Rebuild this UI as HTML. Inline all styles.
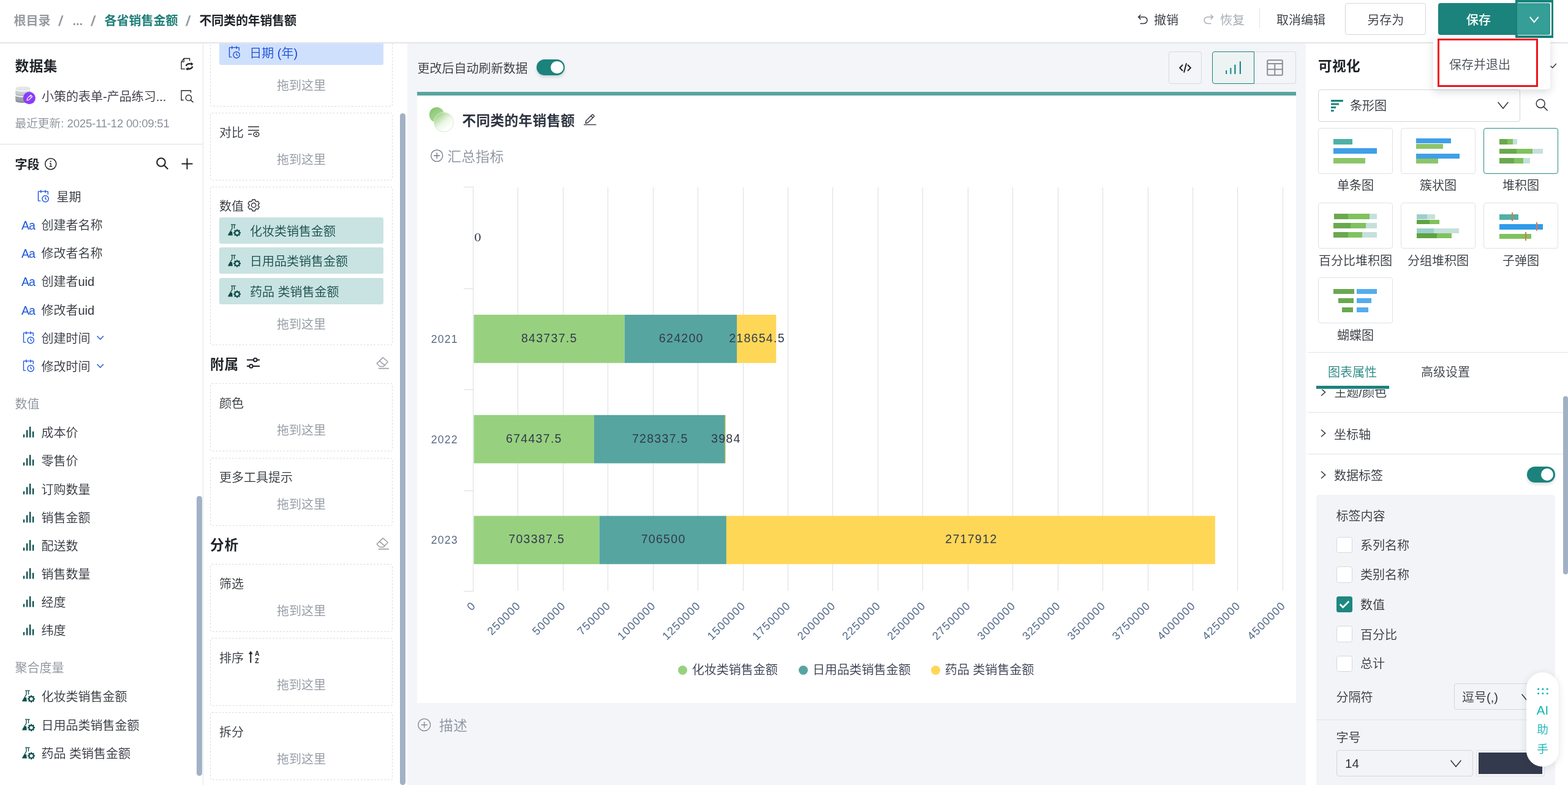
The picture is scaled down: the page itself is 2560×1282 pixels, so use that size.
<!DOCTYPE html>
<html lang="zh-CN">
<head>
<meta charset="utf-8">
<title>不同类的年销售额</title>
<style>
*{box-sizing:border-box;margin:0;padding:0}
html,body{width:2560px;height:1282px;overflow:hidden;background:#fff}
body{font-family:"Liberation Sans","Noto Sans CJK SC",sans-serif;color:#2f333a;-webkit-font-smoothing:antialiased}
#root{position:relative;width:2560px;height:1282px;overflow:hidden;background:#f3f5f9}
#root div,#root svg{position:absolute}
.t{white-space:nowrap}
.l{font-weight:400}
svg{overflow:visible}
</style>
</head>
<body>
<div id="root">
<section aria-label="panel-backgrounds">
<div style="left:0px;top:70px;width:665px;height:1212px;background:#fff;"></div>
<div style="left:331px;top:70px;width:1px;height:1212px;background:#e1e3e7;"></div>
<div style="left:2132px;top:70px;width:428px;height:1212px;background:#fff;"></div>
</section>
<aside aria-label="dataset-fields">
<div class="t" style="left:24.5px;top:91.0px;font-size:22.67px;line-height:34px;color:#1f2328;font-weight:700;letter-spacing:0.500px;">数据集</div>
<div class="t" style="left:68px;top:143.0px;font-size:20px;line-height:30px;color:#30343b;font-weight:350;">小策的表单-产品练习...</div>
<div class="t" style="left:24.5px;top:188.0px;font-size:18.67px;line-height:28px;color:#8b919b;font-weight:350;">最近更新: <span style="letter-spacing:-0.25px">2025-11-12 00:09:51</span></div>
<div style="left:0px;top:235px;width:331px;height:1px;background:#dcdfe4;"></div>
<div class="t" style="left:24.5px;top:254.0px;font-size:20px;line-height:30px;color:#1f2328;font-weight:700;">字段</div>
<svg style="left:295px;top:95px;" width="21" height="22" viewBox="0 0 21 22"><g fill="none" stroke="#1f2328" stroke-width="1.350"><path d="M14.600 4.600V0.500H5.400L1.100 5.900V17.600H6.900"/><path d="M5.400 0.500V5.900H1.100" stroke-width="1.100"/></g><g fill="none" stroke="#1f2328" stroke-width="2.400"><path d="M8.700 12.700Q10.600 8 16.900 9.500"/><path d="M19.500 13.500Q17.400 18.100 12.300 17.400"/></g><g fill="#1f2328"><path d="M16.300 6.300L20.500 9.600L17.400 12.500Z"/><path d="M13 14.800L7.700 17.700L12.300 20.100Z"/></g></svg>
<svg style="left:25px;top:141px;" width="34" height="30" viewBox="0 0 34 30"><path d="M0.500 15.70A11.950 2.7 0 0 1 24.400 15.70V24.30A11.950 2.7 0 0 1 0.500 24.30Z" fill="#8c9299"/><path d="M0.500 15.70A11.950 2.7 0 0 1 24.400 15.70V21.30A11.950 2.7 0 0 1 0.500 21.30Z" fill="#9da2a9"/><path d="M0.500 9.20A11.950 2.7 0 0 1 24.400 9.20V15.20A11.950 2.7 0 0 1 0.500 15.20Z" fill="#ffffff"/><path d="M0.500 7.70A11.950 2.7 0 0 1 24.400 7.70V13.70A11.950 2.7 0 0 1 0.500 13.70Z" fill="#b9bdc2"/><path d="M0.500 7.70A11.950 2.7 0 0 1 24.400 7.70V10.90A11.950 2.7 0 0 1 0.500 10.90Z" fill="#c9ccd1"/><path d="M0.500 4.20A11.950 2.7 0 0 1 24.400 4.20V6.00A11.950 2.7 0 0 1 0.500 6.00Z" fill="#ffffff"/><path d="M0.500 3.00A11.950 2.7 0 0 1 24.400 3.00V4.80A11.950 2.7 0 0 1 0.500 4.80Z" fill="#e3e5e8"/><circle cx="22.800" cy="19.100" r="10.150" fill="#8b3df8"/><g transform="translate(22.700 19.300) rotate(45)" fill="none" stroke="#fff" stroke-width="1.150" stroke-linejoin="round"><path d="M-1.800 -5.300h3.600v7.600L0 5.300L-1.800 2.300Z"/><path d="M-1.800 -3h3.600" stroke-width="0.900"/></g></svg>
<svg style="left:295px;top:147px;" width="21" height="22" viewBox="0 0 21 22"><g fill="none" stroke="#1f2328" stroke-width="1.350"><path d="M16.500 4.400V1H1.100V16.500H4.700"/><circle cx="12.900" cy="12.800" r="4.600"/><path d="M16.100 16.100l4.500 4.200" stroke-width="1.500"/></g></svg>
<svg style="left:73px;top:257.5px;" width="19.5" height="19.5" viewBox="0 0 19.5 19.5"><circle cx="9.750" cy="9.750" r="9" fill="none" stroke="#1f2328" stroke-width="1.500"/><g fill="#1f2328"><circle cx="9.750" cy="5.600" r="1.100"/><path d="M8 8.200h2.600v5h1.600v1.200H7.600v-1.200h1.700V9.400H8z"/></g></svg>
<svg style="left:255px;top:257px;" width="20" height="20" viewBox="0 0 20 20"><g fill="none" stroke="#1f2328" stroke-width="2.1"><circle cx="8" cy="8" r="6.800"/><path d="M12.800 12.800l6.400 6.400"/></g></svg>
<svg style="left:296px;top:257.5px;" width="19" height="19" viewBox="0 0 19 19"><path d="M9.500 0.500v18M0.500 9.500h18" fill="none" stroke="#1f2328" stroke-width="2"/></svg>
<svg style="left:62px;top:310.2px;" width="19" height="21" viewBox="0 0 19 21"><g fill="none" stroke="#1a56e0" stroke-width="1.400" stroke-linecap="round" stroke-linejoin="round"><path d="M3.800 18.100H1.100a0.600 0.600 0 0 1-0.600-0.600V3.230a0.600 0.600 0 0 1 0.600-0.600H15.700a0.600 0.600 0 0 1 0.600 0.600V7.150"/><path d="M4.750 0.700V4.600M12.100 0.700V4.600"/><circle cx="12.100" cy="14.600" r="5.150"/><path d="M12.100 12.250V14.300L13.500 15.700" stroke-width="1.300"/></g></svg>
<div class="t" style="left:92.5px;top:306.5px;font-size:20px;line-height:30px;color:#30343b;font-weight:350;">星期</div>
<div class="t" style="left:35px;top:353.5px;font-size:19.5px;line-height:29px;color:#1f57d6;letter-spacing:-0.9px;">Aa</div>
<div class="t" style="left:67.5px;top:353.0px;font-size:20px;line-height:30px;color:#30343b;font-weight:350;">创建者名称</div>
<div class="t" style="left:35px;top:399.5px;font-size:19.5px;line-height:29px;color:#1f57d6;letter-spacing:-0.9px;">Aa</div>
<div class="t" style="left:67.5px;top:399.0px;font-size:20px;line-height:30px;color:#30343b;font-weight:350;">修改者名称</div>
<div class="t" style="left:35px;top:445.5px;font-size:19.5px;line-height:29px;color:#1f57d6;letter-spacing:-0.9px;">Aa</div>
<div class="t" style="left:67.5px;top:445.0px;font-size:20px;line-height:30px;color:#30343b;font-weight:350;">创建者uid</div>
<div class="t" style="left:35px;top:492.5px;font-size:19.5px;line-height:29px;color:#1f57d6;letter-spacing:-0.9px;">Aa</div>
<div class="t" style="left:67.5px;top:492.0px;font-size:20px;line-height:30px;color:#30343b;font-weight:350;">修改者uid</div>
<svg style="left:37.5px;top:541.0px;" width="19" height="21" viewBox="0 0 19 21"><g fill="none" stroke="#1a56e0" stroke-width="1.400" stroke-linecap="round" stroke-linejoin="round"><path d="M3.800 18.100H1.100a0.600 0.600 0 0 1-0.600-0.600V3.230a0.600 0.600 0 0 1 0.600-0.600H15.700a0.600 0.600 0 0 1 0.600 0.600V7.150"/><path d="M4.750 0.700V4.600M12.100 0.700V4.600"/><circle cx="12.100" cy="14.600" r="5.150"/><path d="M12.100 12.250V14.300L13.500 15.700" stroke-width="1.300"/></g></svg>
<div class="t" style="left:67.5px;top:538.0px;font-size:20px;line-height:30px;color:#30343b;font-weight:350;">创建时间</div>
<svg style="left:157.5px;top:548px;" width="12" height="8" viewBox="0 0 12 8"><path d="M0.600 0.700l5.200 5.600L11 0.700" fill="none" stroke="#1f57d6" stroke-width="1.400"/></svg>
<svg style="left:37.5px;top:587.0px;" width="19" height="21" viewBox="0 0 19 21"><g fill="none" stroke="#1a56e0" stroke-width="1.400" stroke-linecap="round" stroke-linejoin="round"><path d="M3.800 18.100H1.100a0.600 0.600 0 0 1-0.600-0.600V3.230a0.600 0.600 0 0 1 0.600-0.600H15.700a0.600 0.600 0 0 1 0.600 0.600V7.150"/><path d="M4.750 0.700V4.600M12.100 0.700V4.600"/><circle cx="12.100" cy="14.600" r="5.150"/><path d="M12.100 12.250V14.300L13.500 15.700" stroke-width="1.300"/></g></svg>
<div class="t" style="left:67.5px;top:584.0px;font-size:20px;line-height:30px;color:#30343b;font-weight:350;">修改时间</div>
<svg style="left:157.5px;top:594px;" width="12" height="8" viewBox="0 0 12 8"><path d="M0.600 0.700l5.200 5.600L11 0.700" fill="none" stroke="#1f57d6" stroke-width="1.400"/></svg>
<div class="t" style="left:24.5px;top:645.0px;font-size:20px;line-height:30px;color:#8b919b;font-weight:350;">数值</div>
<svg style="left:38.2px;top:696.5px;" width="17" height="18" viewBox="0 0 17 18"><g fill="#0c4f4d"><rect x="-0.100" y="12.300" width="2.300" height="5.200" rx="0.900"/><rect x="4.900" y="5.200" width="2.400" height="12.300" rx="0.900"/><rect x="9.900" y="-0.300" width="2.400" height="17.800" rx="0.900"/><rect x="14.900" y="7.400" width="2.400" height="10.100" rx="0.900"/></g></svg>
<div class="t" style="left:67.5px;top:692.0px;font-size:20px;line-height:30px;color:#30343b;font-weight:350;">成本价</div>
<svg style="left:38.2px;top:742.5px;" width="17" height="18" viewBox="0 0 17 18"><g fill="#0c4f4d"><rect x="-0.100" y="12.300" width="2.300" height="5.200" rx="0.900"/><rect x="4.900" y="5.200" width="2.400" height="12.300" rx="0.900"/><rect x="9.900" y="-0.300" width="2.400" height="17.800" rx="0.900"/><rect x="14.900" y="7.400" width="2.400" height="10.100" rx="0.900"/></g></svg>
<div class="t" style="left:67.5px;top:738.0px;font-size:20px;line-height:30px;color:#30343b;font-weight:350;">零售价</div>
<svg style="left:38.2px;top:789.5px;" width="17" height="18" viewBox="0 0 17 18"><g fill="#0c4f4d"><rect x="-0.100" y="12.300" width="2.300" height="5.200" rx="0.900"/><rect x="4.900" y="5.200" width="2.400" height="12.300" rx="0.900"/><rect x="9.900" y="-0.300" width="2.400" height="17.800" rx="0.900"/><rect x="14.900" y="7.400" width="2.400" height="10.100" rx="0.900"/></g></svg>
<div class="t" style="left:67.5px;top:785.0px;font-size:20px;line-height:30px;color:#30343b;font-weight:350;">订购数量</div>
<svg style="left:38.2px;top:835.5px;" width="17" height="18" viewBox="0 0 17 18"><g fill="#0c4f4d"><rect x="-0.100" y="12.300" width="2.300" height="5.200" rx="0.900"/><rect x="4.900" y="5.200" width="2.400" height="12.300" rx="0.900"/><rect x="9.900" y="-0.300" width="2.400" height="17.800" rx="0.900"/><rect x="14.900" y="7.400" width="2.400" height="10.100" rx="0.900"/></g></svg>
<div class="t" style="left:67.5px;top:831.0px;font-size:20px;line-height:30px;color:#30343b;font-weight:350;">销售金额</div>
<svg style="left:38.2px;top:881.5px;" width="17" height="18" viewBox="0 0 17 18"><g fill="#0c4f4d"><rect x="-0.100" y="12.300" width="2.300" height="5.200" rx="0.900"/><rect x="4.900" y="5.200" width="2.400" height="12.300" rx="0.900"/><rect x="9.900" y="-0.300" width="2.400" height="17.800" rx="0.900"/><rect x="14.900" y="7.400" width="2.400" height="10.100" rx="0.900"/></g></svg>
<div class="t" style="left:67.5px;top:877.0px;font-size:20px;line-height:30px;color:#30343b;font-weight:350;">配送数</div>
<svg style="left:38.2px;top:927.5px;" width="17" height="18" viewBox="0 0 17 18"><g fill="#0c4f4d"><rect x="-0.100" y="12.300" width="2.300" height="5.200" rx="0.900"/><rect x="4.900" y="5.200" width="2.400" height="12.300" rx="0.900"/><rect x="9.900" y="-0.300" width="2.400" height="17.800" rx="0.900"/><rect x="14.900" y="7.400" width="2.400" height="10.100" rx="0.900"/></g></svg>
<div class="t" style="left:67.5px;top:923.0px;font-size:20px;line-height:30px;color:#30343b;font-weight:350;">销售数量</div>
<svg style="left:38.2px;top:973.5px;" width="17" height="18" viewBox="0 0 17 18"><g fill="#0c4f4d"><rect x="-0.100" y="12.300" width="2.300" height="5.200" rx="0.900"/><rect x="4.900" y="5.200" width="2.400" height="12.300" rx="0.900"/><rect x="9.900" y="-0.300" width="2.400" height="17.800" rx="0.900"/><rect x="14.900" y="7.400" width="2.400" height="10.100" rx="0.900"/></g></svg>
<div class="t" style="left:67.5px;top:969.0px;font-size:20px;line-height:30px;color:#30343b;font-weight:350;">经度</div>
<svg style="left:38.2px;top:1019.5px;" width="17" height="18" viewBox="0 0 17 18"><g fill="#0c4f4d"><rect x="-0.100" y="12.300" width="2.300" height="5.200" rx="0.900"/><rect x="4.900" y="5.200" width="2.400" height="12.300" rx="0.900"/><rect x="9.900" y="-0.300" width="2.400" height="17.800" rx="0.900"/><rect x="14.900" y="7.400" width="2.400" height="10.100" rx="0.900"/></g></svg>
<div class="t" style="left:67.5px;top:1015.0px;font-size:20px;line-height:30px;color:#30343b;font-weight:350;">纬度</div>
<div class="t" style="left:24.5px;top:1076.0px;font-size:20px;line-height:30px;color:#8b919b;font-weight:350;">聚合度量</div>
<svg style="left:35.7px;top:1126.5px;" width="22" height="21" viewBox="0 0 22 21"><g fill="#0c4f4d"><rect x="5.100" y="0.200" width="7.700" height="1.300" rx="0.300"/><path d="M6.300 1.300H7.600V7.400L4.750 12.100H7L7.900 18.400H0.900Q-0.300 18.400 0.200 17.400L6.300 7.050Z"/><rect x="9.900" y="1.300" width="1.300" height="5.900" rx="0.300"/><path d="M13.97,8.41L16.23,8.41L16.43,10.00L17.20,10.32L18.47,9.33L20.07,10.93L19.08,12.20L19.40,12.97L20.99,13.17L20.99,15.43L19.40,15.63L19.08,16.40L20.07,17.67L18.47,19.27L17.20,18.28L16.43,18.60L16.23,20.19L13.97,20.19L13.77,18.60L13.00,18.28L11.73,19.27L10.13,17.67L11.12,16.40L10.80,15.63L9.21,15.43L9.21,13.17L10.80,12.97L11.12,12.20L10.13,10.93L11.73,9.33L13.00,10.32L13.77,10.00ZM17.70,14.3a2.600,2.600 0 1,0 -5.200,0a2.600,2.600 0 1,0 5.200,0Z" fill-rule="evenodd"/></g></svg>
<div class="t" style="left:67.5px;top:1123.0px;font-size:20px;line-height:30px;color:#30343b;font-weight:350;">化妆类销售金额</div>
<svg style="left:35.7px;top:1173.5px;" width="22" height="21" viewBox="0 0 22 21"><g fill="#0c4f4d"><rect x="5.100" y="0.200" width="7.700" height="1.300" rx="0.300"/><path d="M6.300 1.300H7.600V7.400L4.750 12.100H7L7.900 18.400H0.900Q-0.300 18.400 0.200 17.400L6.300 7.050Z"/><rect x="9.900" y="1.300" width="1.300" height="5.900" rx="0.300"/><path d="M13.97,8.41L16.23,8.41L16.43,10.00L17.20,10.32L18.47,9.33L20.07,10.93L19.08,12.20L19.40,12.97L20.99,13.17L20.99,15.43L19.40,15.63L19.08,16.40L20.07,17.67L18.47,19.27L17.20,18.28L16.43,18.60L16.23,20.19L13.97,20.19L13.77,18.60L13.00,18.28L11.73,19.27L10.13,17.67L11.12,16.40L10.80,15.63L9.21,15.43L9.21,13.17L10.80,12.97L11.12,12.20L10.13,10.93L11.73,9.33L13.00,10.32L13.77,10.00ZM17.70,14.3a2.600,2.600 0 1,0 -5.200,0a2.600,2.600 0 1,0 5.200,0Z" fill-rule="evenodd"/></g></svg>
<div class="t" style="left:67.5px;top:1170.0px;font-size:20px;line-height:30px;color:#30343b;font-weight:350;">日用品类销售金额</div>
<svg style="left:35.7px;top:1219.5px;" width="22" height="21" viewBox="0 0 22 21"><g fill="#0c4f4d"><rect x="5.100" y="0.200" width="7.700" height="1.300" rx="0.300"/><path d="M6.300 1.300H7.600V7.400L4.750 12.100H7L7.900 18.400H0.900Q-0.300 18.400 0.200 17.400L6.300 7.050Z"/><rect x="9.900" y="1.300" width="1.300" height="5.900" rx="0.300"/><path d="M13.97,8.41L16.23,8.41L16.43,10.00L17.20,10.32L18.47,9.33L20.07,10.93L19.08,12.20L19.40,12.97L20.99,13.17L20.99,15.43L19.40,15.63L19.08,16.40L20.07,17.67L18.47,19.27L17.20,18.28L16.43,18.60L16.23,20.19L13.97,20.19L13.77,18.60L13.00,18.28L11.73,19.27L10.13,17.67L11.12,16.40L10.80,15.63L9.21,15.43L9.21,13.17L10.80,12.97L11.12,12.20L10.13,10.93L11.73,9.33L13.00,10.32L13.77,10.00ZM17.70,14.3a2.600,2.600 0 1,0 -5.200,0a2.600,2.600 0 1,0 5.200,0Z" fill-rule="evenodd"/></g></svg>
<div class="t" style="left:67.5px;top:1216.0px;font-size:20px;line-height:30px;color:#30343b;font-weight:350;">药品 类销售金额</div>
<div style="left:321px;top:810px;width:8.5px;height:456.5px;background:#a2b1c4;border-radius:4.500px;"></div>
</aside>
<section aria-label="chart-shelves">
<div style="left:358px;top:66px;width:268px;height:39.6px;background:#cfe0fd;border-radius:3px;"></div>
<svg style="left:374px;top:75.2px;" width="19" height="21" viewBox="0 0 19 21"><g fill="none" stroke="#1d4fd8" stroke-width="1.400" stroke-linecap="round" stroke-linejoin="round"><path d="M3.800 18.100H1.100a0.600 0.600 0 0 1-0.600-0.600V3.230a0.600 0.600 0 0 1 0.600-0.600H15.700a0.600 0.600 0 0 1 0.600 0.600V7.150"/><path d="M4.750 0.700V4.600M12.100 0.700V4.600"/><circle cx="12.100" cy="14.600" r="5.150"/><path d="M12.100 12.250V14.300L13.500 15.700" stroke-width="1.300"/></g></svg>
<div class="t" style="left:407.2px;top:72.0px;font-size:20px;line-height:30px;color:#1a4dd6;font-weight:350;">日期 (年)</div>
<div class="t" style="left:343px;top:125.0px;font-size:20px;line-height:30px;color:#9096a0;font-weight:350;width:298px;text-align:center;">拖到这里</div>
<div class="t" style="left:358px;top:201.6px;font-size:20px;line-height:30px;color:#30343b;font-weight:350;">对比</div>
<svg style="left:405px;top:205.6px;" width="18.5" height="17.5" viewBox="0 0 18.5 17.5"><g fill="none" stroke="#2f333a" stroke-width="1.500"><path d="M0 1h18M0 6.700h18M0 13.200h6.200"/><ellipse cx="13.400" cy="13.300" rx="4.400" ry="3.600"/></g><circle cx="13.400" cy="13.300" r="1.300" fill="#2f333a"/></svg>
<div class="t" style="left:343px;top:246.0px;font-size:20px;line-height:30px;color:#9096a0;font-weight:350;width:298px;text-align:center;">拖到这里</div>
<div class="t" style="left:358px;top:322.4px;font-size:20px;line-height:30px;color:#30343b;font-weight:350;">数值</div>
<svg style="left:404px;top:325px;" width="20.5" height="20.5" viewBox="0 0 20.5 20.5"><g fill="none" stroke="#2f333a" stroke-width="1.400" stroke-linejoin="round"><path d="M7.94,0.97L12.46,0.97L13.04,3.48L14.60,4.38L17.06,3.63L19.32,7.54L17.44,9.30L17.44,11.10L19.32,12.86L17.06,16.77L14.60,16.02L13.04,16.92L12.46,19.43L7.94,19.43L7.36,16.92L5.80,16.02L3.34,16.77L1.08,12.86L2.96,11.10L2.96,9.30L1.08,7.54L3.34,3.63L5.80,4.38L7.36,3.48Z"/><circle cx="10.2" cy="10.2" r="3.700"/></g></svg>
<div style="left:358.3px;top:355px;width:267.4px;height:43px;background:#c8e3e1;border-radius:3px;"></div>
<svg style="left:372.3px;top:365.5px;" width="22" height="21" viewBox="0 0 22 21"><g fill="#0f4a48"><rect x="5.100" y="0.200" width="7.700" height="1.300" rx="0.300"/><path d="M6.300 1.300H7.600V7.400L4.750 12.100H7L7.900 18.400H0.900Q-0.300 18.400 0.200 17.400L6.300 7.050Z"/><rect x="9.900" y="1.300" width="1.300" height="5.900" rx="0.300"/><path d="M13.97,8.41L16.23,8.41L16.43,10.00L17.20,10.32L18.47,9.33L20.07,10.93L19.08,12.20L19.40,12.97L20.99,13.17L20.99,15.43L19.40,15.63L19.08,16.40L20.07,17.67L18.47,19.27L17.20,18.28L16.43,18.60L16.23,20.19L13.97,20.19L13.77,18.60L13.00,18.28L11.73,19.27L10.13,17.67L11.12,16.40L10.80,15.63L9.21,15.43L9.21,13.17L10.80,12.97L11.12,12.20L10.13,10.93L11.73,9.33L13.00,10.32L13.77,10.00ZM17.70,14.3a2.600,2.600 0 1,0 -5.200,0a2.600,2.600 0 1,0 5.200,0Z" fill-rule="evenodd"/></g></svg>
<div class="t" style="left:408px;top:363.0px;font-size:20px;line-height:30px;color:#164b49;font-weight:350;">化妆类销售金额</div>
<div style="left:358.3px;top:404.4px;width:267.4px;height:43px;background:#c8e3e1;border-radius:3px;"></div>
<svg style="left:372.3px;top:415.5px;" width="22" height="21" viewBox="0 0 22 21"><g fill="#0f4a48"><rect x="5.100" y="0.200" width="7.700" height="1.300" rx="0.300"/><path d="M6.300 1.300H7.600V7.400L4.750 12.100H7L7.900 18.400H0.900Q-0.300 18.400 0.200 17.400L6.300 7.050Z"/><rect x="9.900" y="1.300" width="1.300" height="5.900" rx="0.300"/><path d="M13.97,8.41L16.23,8.41L16.43,10.00L17.20,10.32L18.47,9.33L20.07,10.93L19.08,12.20L19.40,12.97L20.99,13.17L20.99,15.43L19.40,15.63L19.08,16.40L20.07,17.67L18.47,19.27L17.20,18.28L16.43,18.60L16.23,20.19L13.97,20.19L13.77,18.60L13.00,18.28L11.73,19.27L10.13,17.67L11.12,16.40L10.80,15.63L9.21,15.43L9.21,13.17L10.80,12.97L11.12,12.20L10.13,10.93L11.73,9.33L13.00,10.32L13.77,10.00ZM17.70,14.3a2.600,2.600 0 1,0 -5.200,0a2.600,2.600 0 1,0 5.200,0Z" fill-rule="evenodd"/></g></svg>
<div class="t" style="left:408px;top:412.0px;font-size:20px;line-height:30px;color:#164b49;font-weight:350;">日用品类销售金额</div>
<div style="left:358.3px;top:454px;width:267.4px;height:43px;background:#c8e3e1;border-radius:3px;"></div>
<svg style="left:372.3px;top:465.5px;" width="22" height="21" viewBox="0 0 22 21"><g fill="#0f4a48"><rect x="5.100" y="0.200" width="7.700" height="1.300" rx="0.300"/><path d="M6.300 1.300H7.600V7.400L4.750 12.100H7L7.900 18.400H0.900Q-0.300 18.400 0.200 17.400L6.300 7.050Z"/><rect x="9.900" y="1.300" width="1.300" height="5.900" rx="0.300"/><path d="M13.97,8.41L16.23,8.41L16.43,10.00L17.20,10.32L18.47,9.33L20.07,10.93L19.08,12.20L19.40,12.97L20.99,13.17L20.99,15.43L19.40,15.63L19.08,16.40L20.07,17.67L18.47,19.27L17.20,18.28L16.43,18.60L16.23,20.19L13.97,20.19L13.77,18.60L13.00,18.28L11.73,19.27L10.13,17.67L11.12,16.40L10.80,15.63L9.21,15.43L9.21,13.17L10.80,12.97L11.12,12.20L10.13,10.93L11.73,9.33L13.00,10.32L13.77,10.00ZM17.70,14.3a2.600,2.600 0 1,0 -5.200,0a2.600,2.600 0 1,0 5.200,0Z" fill-rule="evenodd"/></g></svg>
<div class="t" style="left:408px;top:462.0px;font-size:20px;line-height:30px;color:#164b49;font-weight:350;">药品 类销售金额</div>
<div class="t" style="left:343px;top:515.0px;font-size:20px;line-height:30px;color:#9096a0;font-weight:350;width:298px;text-align:center;">拖到这里</div>
<div class="t" style="left:343px;top:578.0px;font-size:22.67px;line-height:34px;color:#1f2328;font-weight:700;letter-spacing:0.800px;">附属</div>
<svg style="left:403.3px;top:584.2px;" width="21" height="18" viewBox="0 0 21 18"><g fill="none" stroke="#1f2328" stroke-width="2"><path d="M0 3.700h10.800M16.800 3.700h4.200M0 14h4M10 14h11"/><circle cx="13.800" cy="3.700" r="2.800"/><circle cx="7" cy="14" r="2.800"/></g></svg>
<svg style="left:614px;top:582.9px;" width="21" height="20" viewBox="0 0 21 20"><g fill="none" stroke="#9aa0a8" stroke-width="1.5" stroke-linejoin="round"><path d="M11.2 0.9l7.400 6.300a1 1 0 0 1 .1 1.400l-6.700 6.900H6.400l-4.600-4a1 1 0 0 1-.1-1.400z"/><path d="M5.800 6.600l8.800 7.200"/><path d="M4 18.700h17" stroke-width="1.700"/></g></svg>
<div class="t" style="left:358px;top:644.0px;font-size:20px;line-height:30px;color:#30343b;font-weight:350;">颜色</div>
<div class="t" style="left:343px;top:688.0px;font-size:20px;line-height:30px;color:#9096a0;font-weight:350;width:298px;text-align:center;">拖到这里</div>
<div class="t" style="left:358px;top:765.0px;font-size:20px;line-height:30px;color:#30343b;font-weight:350;">更多工具提示</div>
<div class="t" style="left:343px;top:809.0px;font-size:20px;line-height:30px;color:#9096a0;font-weight:350;width:298px;text-align:center;">拖到这里</div>
<div class="t" style="left:343px;top:873.0px;font-size:22.67px;line-height:34px;color:#1f2328;font-weight:700;letter-spacing:0.800px;">分析</div>
<svg style="left:614px;top:877.9px;" width="21" height="20" viewBox="0 0 21 20"><g fill="none" stroke="#9aa0a8" stroke-width="1.5" stroke-linejoin="round"><path d="M11.2 0.9l7.400 6.300a1 1 0 0 1 .1 1.400l-6.700 6.900H6.400l-4.600-4a1 1 0 0 1-.1-1.400z"/><path d="M5.800 6.600l8.800 7.200"/><path d="M4 18.700h17" stroke-width="1.700"/></g></svg>
<div class="t" style="left:358px;top:939.0px;font-size:20px;line-height:30px;color:#30343b;font-weight:350;">筛选</div>
<div class="t" style="left:343px;top:983.0px;font-size:20px;line-height:30px;color:#9096a0;font-weight:350;width:298px;text-align:center;">拖到这里</div>
<div class="t" style="left:358px;top:1060.0px;font-size:20px;line-height:30px;color:#30343b;font-weight:350;">排序</div>
<div class="t" style="left:343px;top:1104.0px;font-size:20px;line-height:30px;color:#9096a0;font-weight:350;width:298px;text-align:center;">拖到这里</div>
<svg style="left:405.5px;top:1062.5px;" width="19" height="20" viewBox="0 0 19 20"><path d="M3.300 19.500V3.600" stroke="#1f2328" stroke-width="2" fill="none"/><path d="M3.300 0L6.700 5.200H-0.100z" fill="#1f2328"/><text x="10" y="8.400" font-size="10.500" font-weight="700" fill="#1f2328" font-family="Liberation Sans,sans-serif">A</text><text x="10.300" y="19.600" font-size="10.500" font-weight="700" fill="#1f2328" font-family="Liberation Sans,sans-serif">Z</text></svg>
<div class="t" style="left:358px;top:1181.0px;font-size:20px;line-height:30px;color:#30343b;font-weight:350;">拆分</div>
<div class="t" style="left:343px;top:1225.0px;font-size:20px;line-height:30px;color:#9096a0;font-weight:350;width:298px;text-align:center;">拖到这里</div>
<svg style="left:0;top:0" width="700" height="1282" viewBox="0 0 700 1282"><g fill="none" stroke="#d6d9e1" stroke-width="1" stroke-dasharray="2.800 2.700"><rect x="343.5" y="40" width="297" height="133.5" rx="2.500"/><rect x="343.5" y="184.6" width="297" height="109.6" rx="2.500"/><rect x="343.5" y="305.3" width="297" height="257.8" rx="2.500"/><rect x="343.5" y="626.4" width="297" height="110.2" rx="2.500"/><rect x="343.5" y="748.3" width="297" height="110" rx="2.500"/><rect x="343.5" y="921.5" width="297" height="110" rx="2.500"/><rect x="343.5" y="1042.3" width="297" height="110" rx="2.500"/><rect x="343.5" y="1163.5" width="297" height="110" rx="2.500"/></g></svg>
<div style="left:653px;top:185px;width:8.7px;height:1096.5px;background:#a2b1c4;border-radius:4.500px;"></div>
</section>
<main aria-label="chart-canvas">
<div class="t" style="left:681.5px;top:96.5px;font-size:20px;line-height:30px;color:#30343b;font-weight:350;">更改后自动刷新数据</div>
<div style="left:876.2px;top:97px;width:46px;height:26px;background:#1b837c;border-radius:13.0px;box-shadow:0 3px 5px rgba(0,0,0,.14);"></div>
<div style="left:899.2px;top:99.8px;width:20.4px;height:20.4px;background:#fff;border-radius:50%;"></div>
<div style="left:1908.3px;top:84.1px;width:53.5px;height:52.7px;border:1px solid #d6d9de;border-radius:4px;"></div>
<svg style="left:1925px;top:103px;" width="20" height="16" viewBox="0 0 20 16"><g fill="none" stroke="#1f2328" stroke-width="2"><path d="M6 2.800L1.200 7.800L6 12.800"/><path d="M14 2.800L18.800 7.800L14 12.800"/><path d="M12 0.300L8 15.500"/></g></svg>
<div style="left:2047.4px;top:84.1px;width:68.3px;height:52.7px;border:1px solid #d6d9de;border-left:none;border-radius:0 4px 4px 0;"></div>
<div style="left:1979.2px;top:84.1px;width:68.7px;height:52.7px;border:1.300px solid #1b837c;border-radius:4px 0 0 4px;background:#edf3f3;"></div>
<svg style="left:2001px;top:100px;" width="26" height="21" viewBox="0 0 26 21"><g fill="#1b8a8c"><rect x="0.100" y="14.900" width="2.100" height="6"/><rect x="7.300" y="10.900" width="2.100" height="10"/><rect x="14.200" y="5.600" width="2.300" height="15.300"/><rect x="22.800" y="0.200" width="2.200" height="20.700"/></g></svg>
<svg style="left:2067.5px;top:97px;" width="27" height="27" viewBox="0 0 27 27"><g fill="none" stroke="#8a8e98" stroke-width="2"><rect x="1.200" y="1.200" width="24.600" height="24.600" rx="1.500"/><path d="M1.200 6.900h24.600M1.200 16.200h24.600M13.300 6.900v18.900"/></g></svg>
<div style="left:681px;top:150px;width:1435px;height:998px;background:#fff;"></div>
<div style="left:681px;top:150px;width:1435px;height:5.8px;background:#58a5a0;"></div>
<div style="left:700.9px;top:175px;width:24.6px;height:24.6px;border-radius:50%;background:linear-gradient(140deg,#86c56c 10%,#b9dea8 90%);"></div>
<div style="left:707.7px;top:182.7px;width:33px;height:33px;border-radius:50%;border:1px solid #d6edcd;background:linear-gradient(142deg,rgba(160,211,137,.96) 12%,rgba(236,247,231,.96) 52%,rgba(255,255,255,.97) 78%);"></div>
<div class="t" style="left:754.5px;top:180.0px;font-size:22.67px;line-height:34px;color:#2d3340;font-weight:700;letter-spacing:0.330px;">不同类的年销售额</div>
<svg style="left:953px;top:185.5px;" width="21" height="19" viewBox="0 0 21 19"><g fill="none" stroke="#2f333a" stroke-width="1.400" stroke-linejoin="round"><path d="M3 15.200l.800-4L13.600 1.400a1.200 1.200 0 0 1 1.700 0l1.400 1.400a1.200 1.200 0 0 1 0 1.700L6.900 14.300z"/><path d="M11.800 3.200l3 3"/><path d="M0 17.600h20.400" stroke-width="1.300"/></g></svg>
<svg style="left:702.5px;top:244px;" width="20.5" height="20.5" viewBox="0 0 20.5 20.5"><g fill="none" stroke="#6b7686" stroke-width="1.3"><circle cx="10.25" cy="10.25" r="9.45"/><path d="M10.25 5.25v10M5.25 10.25h10"/></g></svg>
<div class="t" style="left:730.5px;top:238.6px;font-size:22.67px;line-height:34px;color:#8a929e;font-weight:350;letter-spacing:0.400px;">汇总指标</div>
<svg style="left:682px;top:1172.5px;" width="21.5" height="21.5" viewBox="0 0 21.5 21.5"><g fill="none" stroke="#838b98" stroke-width="1.3"><circle cx="10.75" cy="10.75" r="9.95"/><path d="M10.75 5.75v10M5.75 10.75h10"/></g></svg>
<div class="t" style="left:717px;top:1168.0px;font-size:22.67px;line-height:34px;color:#8a929e;font-weight:350;letter-spacing:0.600px;">描述</div>
<svg style="left:0;top:0" width="2560" height="1282" viewBox="0 0 2560 1282" font-family="Liberation Sans,sans-serif"><g fill="#dcdee6" shape-rendering="crispEdges"><rect x="845" y="306" width="1" height="658.500"/><rect x="919" y="306" width="1" height="658.500"/><rect x="992" y="306" width="1" height="658.500"/><rect x="1066" y="306" width="1" height="658.500"/><rect x="1139" y="306" width="1" height="658.500"/><rect x="1213" y="306" width="1" height="658.500"/><rect x="1286" y="306" width="1" height="658.500"/><rect x="1359" y="306" width="1" height="658.500"/><rect x="1433" y="306" width="1" height="658.500"/><rect x="1506" y="306" width="1" height="658.500"/><rect x="1580" y="306" width="1" height="658.500"/><rect x="1653" y="306" width="1" height="658.500"/><rect x="1727" y="306" width="1" height="658.500"/><rect x="1800" y="306" width="1" height="658.500"/><rect x="1874" y="306" width="1" height="658.500"/><rect x="1947" y="306" width="1" height="658.500"/><rect x="2020" y="306" width="1" height="658.500"/><rect x="2094" y="306" width="1" height="658.500"/></g><g fill="#d9dce4" shape-rendering="crispEdges"><rect x="772" y="305" width="1" height="660.500"/><rect x="757" y="305" width="15.500" height="1"/><rect x="757" y="471" width="15.500" height="1"/><rect x="757" y="636" width="15.500" height="1"/><rect x="757" y="801" width="15.500" height="1"/><rect x="757" y="965" width="15.500" height="1"/></g><rect x="773.6" y="514" width="246.1" height="78.800" fill="#97d17f"/><rect x="1019.7" y="514" width="183.3" height="78.800" fill="#56a5a1"/><rect x="1203.0" y="514" width="64.2" height="78.800" fill="#ffd757"/><text x="747.700" y="559.7" text-anchor="end" font-size="17.800" fill="#5a6b85" letter-spacing="1.100">2021</text><rect x="773.6" y="677.8" width="196.4" height="78.800" fill="#97d17f"/><rect x="970.0" y="677.8" width="213.8" height="78.800" fill="#56a5a1"/><rect x="1183.9" y="677.8" width="1.2" height="78.800" fill="#ffd757"/><text x="747.700" y="723.5" text-anchor="end" font-size="17.800" fill="#5a6b85" letter-spacing="1.100">2022</text><rect x="773.6" y="842.5" width="204.9" height="78.800" fill="#97d17f"/><rect x="978.5" y="842.5" width="207.4" height="78.800" fill="#56a5a1"/><rect x="1185.9" y="842.5" width="798.0" height="78.800" fill="#ffd757"/><text x="747.700" y="888.2" text-anchor="end" font-size="17.800" fill="#5a6b85" letter-spacing="1.100">2023</text><text x="896.8" y="558.9" text-anchor="middle" font-size="19.600" fill="#333a4d" letter-spacing="1.250">843737.5</text><text x="1112.3" y="558.9" text-anchor="middle" font-size="19.600" fill="#333a4d" letter-spacing="1.250">624200</text><text x="1236.0" y="558.9" text-anchor="middle" font-size="19.600" fill="#333a4d" letter-spacing="1.250">218654.5</text><text x="871.9" y="722.7" text-anchor="middle" font-size="19.600" fill="#333a4d" letter-spacing="1.250">674437.5</text><text x="1077.8" y="722.7" text-anchor="middle" font-size="19.600" fill="#333a4d" letter-spacing="1.250">728337.5</text><text x="1185.3" y="722.7" text-anchor="middle" font-size="19.600" fill="#333a4d" letter-spacing="1.250">3984</text><text x="876.2" y="887.4" text-anchor="middle" font-size="19.600" fill="#333a4d" letter-spacing="1.250">703387.5</text><text x="1083.1" y="887.4" text-anchor="middle" font-size="19.600" fill="#333a4d" letter-spacing="1.250">706500</text><text x="1585.8" y="887.4" text-anchor="middle" font-size="19.600" fill="#333a4d" letter-spacing="1.250">2717912</text><text transform="translate(774.300,393.800) scale(1.130,0.960)" font-size="20" fill="#333a4d" font-family="Liberation Serif,serif">0</text><text transform="translate(768.8,981.500) rotate(-45)" text-anchor="end" font-size="18.300" fill="#53698a" letter-spacing="1.150" dy="12.500">0</text><text transform="translate(842.2,981.500) rotate(-45)" text-anchor="end" font-size="18.300" fill="#53698a" letter-spacing="1.150" dy="12.500">250000</text><text transform="translate(915.7,981.500) rotate(-45)" text-anchor="end" font-size="18.300" fill="#53698a" letter-spacing="1.150" dy="12.500">500000</text><text transform="translate(989.1,981.500) rotate(-45)" text-anchor="end" font-size="18.300" fill="#53698a" letter-spacing="1.150" dy="12.500">750000</text><text transform="translate(1062.6,981.500) rotate(-45)" text-anchor="end" font-size="18.300" fill="#53698a" letter-spacing="1.150" dy="12.500">1000000</text><text transform="translate(1136.0,981.500) rotate(-45)" text-anchor="end" font-size="18.300" fill="#53698a" letter-spacing="1.150" dy="12.500">1250000</text><text transform="translate(1209.5,981.500) rotate(-45)" text-anchor="end" font-size="18.300" fill="#53698a" letter-spacing="1.150" dy="12.500">1500000</text><text transform="translate(1282.9,981.500) rotate(-45)" text-anchor="end" font-size="18.300" fill="#53698a" letter-spacing="1.150" dy="12.500">1750000</text><text transform="translate(1356.4,981.500) rotate(-45)" text-anchor="end" font-size="18.300" fill="#53698a" letter-spacing="1.150" dy="12.500">2000000</text><text transform="translate(1429.8,981.500) rotate(-45)" text-anchor="end" font-size="18.300" fill="#53698a" letter-spacing="1.150" dy="12.500">2250000</text><text transform="translate(1503.3,981.500) rotate(-45)" text-anchor="end" font-size="18.300" fill="#53698a" letter-spacing="1.150" dy="12.500">2500000</text><text transform="translate(1576.8,981.500) rotate(-45)" text-anchor="end" font-size="18.300" fill="#53698a" letter-spacing="1.150" dy="12.500">2750000</text><text transform="translate(1650.2,981.500) rotate(-45)" text-anchor="end" font-size="18.300" fill="#53698a" letter-spacing="1.150" dy="12.500">3000000</text><text transform="translate(1723.7,981.500) rotate(-45)" text-anchor="end" font-size="18.300" fill="#53698a" letter-spacing="1.150" dy="12.500">3250000</text><text transform="translate(1797.1,981.500) rotate(-45)" text-anchor="end" font-size="18.300" fill="#53698a" letter-spacing="1.150" dy="12.500">3500000</text><text transform="translate(1870.5,981.500) rotate(-45)" text-anchor="end" font-size="18.300" fill="#53698a" letter-spacing="1.150" dy="12.500">3750000</text><text transform="translate(1944.0,981.500) rotate(-45)" text-anchor="end" font-size="18.300" fill="#53698a" letter-spacing="1.150" dy="12.500">4000000</text><text transform="translate(2017.5,981.500) rotate(-45)" text-anchor="end" font-size="18.300" fill="#53698a" letter-spacing="1.150" dy="12.500">4250000</text><text transform="translate(2090.9,981.500) rotate(-45)" text-anchor="end" font-size="18.300" fill="#53698a" letter-spacing="1.150" dy="12.500">4500000</text></svg>
<div style="left:1107.0px;top:1086.5px;width:15px;height:15px;background:#97d17f;border-radius:50%;"></div>
<div class="t" style="left:1129.8px;top:1079.0px;font-size:20px;line-height:30px;color:#333a4d;font-weight:350;">化妆类销售金额</div>
<div style="left:1304.0px;top:1086.5px;width:15px;height:15px;background:#56a5a1;border-radius:50%;"></div>
<div class="t" style="left:1326.8px;top:1079.0px;font-size:20px;line-height:30px;color:#333a4d;font-weight:350;">日用品类销售金额</div>
<div style="left:1520.0px;top:1086.5px;width:15px;height:15px;background:#ffd757;border-radius:50%;"></div>
<div class="t" style="left:1542.8px;top:1079.0px;font-size:20px;line-height:30px;color:#333a4d;font-weight:350;">药品 类销售金额</div>
</main>
<aside aria-label="visualization-settings">
<div class="t" style="left:2152px;top:91.0px;font-size:22.67px;line-height:34px;color:#1f2328;font-weight:700;letter-spacing:0.400px;">可视化</div>
<svg style="left:2531px;top:102.5px;" width="11" height="9" viewBox="0 0 11 9"><path d="M0.700 4.800l3 3L9.800 1" fill="none" stroke="#2f333a" stroke-width="1.400"/></svg>
<div style="left:2152px;top:146px;width:330px;height:53px;border:1px solid #d3d6db;border-radius:4px;"></div>
<svg style="left:2173.2px;top:162.8px;" width="20" height="20" viewBox="0 0 20 20"><g fill="#1b837c"><rect x="0" y="0" width="19.800" height="3.300"/><rect x="0" y="5.500" width="13.100" height="3"/><rect x="0" y="10.900" width="8" height="3"/><rect x="0" y="16.300" width="4.700" height="3"/></g></svg>
<div class="t" style="left:2204px;top:158.4px;font-size:20px;line-height:30px;color:#30343b;font-weight:350;">条形图</div>
<svg style="left:2445px;top:166px;" width="18" height="12" viewBox="0 0 18 12"><path d="M0.600 0.800L9 11L17.400 0.800" fill="none" stroke="#2f333a" stroke-width="1.5"/></svg>
<svg style="left:2507.3px;top:161.4px;" width="20.5" height="20.5" viewBox="0 0 20 20"><g fill="none" stroke="#2f333a" stroke-width="1.5"><circle cx="8" cy="8" r="6.800"/><path d="M12.800 12.800l6.400 6.400"/></g></svg>
<div style="left:2152.3px;top:209px;width:121.4px;height:75px;border:1px solid #e0e2e6;border-radius:4px;background:#fff;"></div>
<div class="t" style="left:2132.3px;top:288.0px;font-size:20px;line-height:30px;color:#30343b;font-weight:350;width:161.4px;text-align:center;">单条图</div>
<div style="left:2287.4px;top:209px;width:121.4px;height:75px;border:1px solid #e0e2e6;border-radius:4px;background:#fff;"></div>
<div class="t" style="left:2267.4px;top:288.0px;font-size:20px;line-height:30px;color:#30343b;font-weight:350;width:161.4px;text-align:center;">簇状图</div>
<div style="left:2422.3px;top:209px;width:121.5px;height:75px;border:1.500px solid #2a8a82;border-radius:4px;background:#fff;"></div>
<div class="t" style="left:2402.3px;top:288.0px;font-size:20px;line-height:30px;color:#30343b;font-weight:350;width:161.4px;text-align:center;">堆积图</div>
<div style="left:2152.3px;top:331px;width:121.4px;height:75px;border:1px solid #e0e2e6;border-radius:4px;background:#fff;"></div>
<div class="t" style="left:2132.3px;top:411.0px;font-size:20px;line-height:30px;color:#30343b;font-weight:350;width:161.4px;text-align:center;">百分比堆积图</div>
<div style="left:2287.4px;top:331px;width:121.4px;height:75px;border:1px solid #e0e2e6;border-radius:4px;background:#fff;"></div>
<div class="t" style="left:2267.4px;top:411.0px;font-size:20px;line-height:30px;color:#30343b;font-weight:350;width:161.4px;text-align:center;">分组堆积图</div>
<div style="left:2422.3px;top:331px;width:121.4px;height:75px;border:1px solid #e0e2e6;border-radius:4px;background:#fff;"></div>
<div class="t" style="left:2402.3px;top:411.0px;font-size:20px;line-height:30px;color:#30343b;font-weight:350;width:161.4px;text-align:center;">子弹图</div>
<div style="left:2152.3px;top:453px;width:121.4px;height:75px;border:1px solid #e0e2e6;border-radius:4px;background:#fff;"></div>
<div class="t" style="left:2132.3px;top:533.0px;font-size:20px;line-height:30px;color:#30343b;font-weight:350;width:161.4px;text-align:center;">蝴蝶图</div>
<svg style="left:0;top:0" width="2560" height="600" viewBox="0 0 2560 600" shape-rendering="crispEdges"><rect x="2177.0" y="227.1" width="30.6" height="8.7" fill="#4fb0a5"/><rect x="2177.0" y="242.2" width="70.9" height="9.1" fill="#3f9fe8"/><rect x="2177.0" y="258.2" width="52.1" height="8.7" fill="#8cc56a"/><rect x="2312.3" y="226.1" width="56.2" height="8.0" fill="#3f9fe8"/><rect x="2312.3" y="234.6" width="44.0" height="7.9" fill="#8cc56a"/><rect x="2312.3" y="250.9" width="70.5" height="8.1" fill="#3f9fe8"/><rect x="2312.3" y="259.3" width="35.7" height="7.6" fill="#8cc56a"/><rect x="2448.0" y="227.1" width="12.6" height="8.7" fill="#6aa84f"/><rect x="2460.6" y="227.1" width="9.1" height="8.7" fill="#80c25e"/><rect x="2469.7" y="227.1" width="6.8" height="8.7" fill="#c5e0dc"/><rect x="2448.0" y="242.9" width="28.4" height="8.4" fill="#6aa84f"/><rect x="2476.4" y="242.9" width="25.3" height="8.4" fill="#80c25e"/><rect x="2501.7" y="242.9" width="17.2" height="8.4" fill="#c5e0dc"/><rect x="2448.0" y="258.2" width="23.8" height="8.7" fill="#6aa84f"/><rect x="2471.8" y="258.2" width="15.5" height="8.7" fill="#80c25e"/><rect x="2487.3" y="258.2" width="10.2" height="8.7" fill="#c5e0dc"/><rect x="2177.9" y="349.1" width="22.7" height="8.7" fill="#6aa84f"/><rect x="2200.6" y="349.1" width="35.6" height="8.7" fill="#80c25e"/><rect x="2236.2" y="349.1" width="11.8" height="8.7" fill="#c5e0dc"/><rect x="2177.0" y="364.2" width="27.7" height="8.7" fill="#6aa84f"/><rect x="2204.8" y="364.2" width="25.5" height="8.7" fill="#80c25e"/><rect x="2230.3" y="364.2" width="17.6" height="8.7" fill="#c5e0dc"/><rect x="2177.0" y="379.3" width="23.5" height="8.7" fill="#6aa84f"/><rect x="2200.6" y="379.3" width="23.5" height="8.7" fill="#80c25e"/><rect x="2224.1" y="379.3" width="23.9" height="8.7" fill="#c5e0dc"/><rect x="2313.1" y="350.2" width="17.3" height="7.9" fill="#9bcfcb"/><rect x="2330.4" y="350.2" width="12.1" height="7.9" fill="#c5e0dc"/><rect x="2313.1" y="358.6" width="20.7" height="7.6" fill="#5fa343"/><rect x="2333.8" y="358.6" width="16.6" height="7.6" fill="#80c25e"/><rect x="2313.1" y="373.1" width="27.4" height="7.7" fill="#9bcfcb"/><rect x="2340.5" y="373.1" width="41.5" height="7.7" fill="#c5e0dc"/><rect x="2313.1" y="381.1" width="33.1" height="7.7" fill="#5fa343"/><rect x="2346.2" y="381.1" width="23.7" height="7.7" fill="#80c25e"/><rect x="2448.0" y="350.2" width="30.6" height="9.2" fill="#4fb0a5"/><rect x="2468.0" y="346.9" width="1.7" height="14.3" fill="#e8714a"/><rect x="2448.0" y="365.9" width="70.9" height="9.1" fill="#2f9bec"/><rect x="2508.0" y="362.8" width="1.7" height="14.3" fill="#e8714a"/><rect x="2448.0" y="381.5" width="52.1" height="8.6" fill="#80c25e"/><rect x="2490.0" y="378.5" width="1.7" height="14.3" fill="#e8714a"/><rect x="2177.0" y="472.0" width="33.6" height="8.4" fill="#6aa84f"/><rect x="2214.8" y="472.0" width="33.1" height="8.4" fill="#55acee"/><rect x="2185.1" y="487.1" width="24.9" height="8.1" fill="#6aa84f"/><rect x="2214.5" y="487.1" width="24.7" height="8.1" fill="#55acee"/><rect x="2190.8" y="501.8" width="18.6" height="8.1" fill="#6aa84f"/><rect x="2215.2" y="501.8" width="18.6" height="8.1" fill="#55acee"/></svg>
<div style="left:2135px;top:575px;width:425px;height:1px;background:#dfe2e6;"></div>
<div class="t" style="left:2168px;top:593.4px;font-size:20px;line-height:30px;color:#23877f;font-weight:350;">图表属性</div>
<div class="t" style="left:2320px;top:593.4px;font-size:20px;line-height:30px;color:#3a3e45;font-weight:350;">高级设置</div>
<div style="left:2150px;top:636px;width:200px;height:30px;overflow:hidden;"><div class="t" style="left:28.500px;top:-10px;font-size:20px;line-height:30px;font-weight:350;color:#30343b">主题/颜色</div><svg style="left:6px;top:-2px" width="9" height="13" viewBox="0 0 9 13"><path d="M1 0.700L7.600 6.500L1 12.300" fill="none" stroke="#2f333a" stroke-width="1.500"/></svg></div>
<div style="left:2149px;top:630.1px;width:118.7px;height:5.3px;background:#1b837c;"></div>
<div style="left:2135px;top:673px;width:416.5px;height:1px;background:#dfe2e6;"></div>
<svg style="left:2156px;top:701px;" width="9" height="13" viewBox="0 0 9 13"><path d="M1 0.700L7.600 6.500L1 12.300" fill="none" stroke="#2f333a" stroke-width="1.500"/></svg>
<div class="t" style="left:2178px;top:695.0px;font-size:20px;line-height:30px;color:#30343b;font-weight:350;">坐标轴</div>
<div style="left:2135px;top:741px;width:416.5px;height:1px;background:#dfe2e6;"></div>
<svg style="left:2156px;top:769px;" width="9" height="13" viewBox="0 0 9 13"><path d="M1 0.700L7.600 6.500L1 12.300" fill="none" stroke="#2f333a" stroke-width="1.500"/></svg>
<div class="t" style="left:2178px;top:762.0px;font-size:20px;line-height:30px;color:#30343b;font-weight:350;">数据标签</div>
<div style="left:2492.8px;top:762px;width:46px;height:26px;background:#1b837c;border-radius:13.0px;box-shadow:0 3px 5px rgba(0,0,0,.14);"></div>
<div style="left:2515.8px;top:764.8px;width:20.4px;height:20.4px;background:#fff;border-radius:50%;"></div>
<div style="left:2149px;top:808.4px;width:390px;height:480px;background:#f3f4f8;border-radius:5px;"></div>
<div class="t" style="left:2181.5px;top:828.0px;font-size:20px;line-height:30px;color:#30343b;font-weight:350;">标签内容</div>
<div style="left:2182px;top:877px;width:26px;height:26px;background:#fff;border:1px solid #d5d8de;border-radius:3.500px;"></div>
<div class="t" style="left:2221px;top:876.0px;font-size:20px;line-height:30px;color:#30343b;font-weight:350;">系列名称</div>
<div style="left:2182px;top:925px;width:26px;height:26.5px;background:#fff;border:1px solid #d5d8de;border-radius:3.500px;"></div>
<div class="t" style="left:2221px;top:924.0px;font-size:20px;line-height:30px;color:#30343b;font-weight:350;">类别名称</div>
<div style="left:2182px;top:974px;width:26px;height:26px;background:#1d8780;border-radius:3.500px;"><svg style="left:4px;top:6px" width="18" height="14" viewBox="0 0 18 14"><path d="M1.600 6.800l5 5L16.200 2" fill="none" stroke="#fff" stroke-width="2.700"/></svg></div>
<div class="t" style="left:2221px;top:973.0px;font-size:20px;line-height:30px;color:#30343b;font-weight:350;">数值</div>
<div style="left:2182px;top:1022px;width:26px;height:26.5px;background:#fff;border:1px solid #d5d8de;border-radius:3.500px;"></div>
<div class="t" style="left:2221px;top:1022.0px;font-size:20px;line-height:30px;color:#30343b;font-weight:350;">百分比</div>
<div style="left:2182px;top:1071px;width:26px;height:26px;background:#fff;border:1px solid #d5d8de;border-radius:3.500px;"></div>
<div class="t" style="left:2221px;top:1069.0px;font-size:20px;line-height:30px;color:#30343b;font-weight:350;">总计</div>
<div class="t" style="left:2181.5px;top:1124.0px;font-size:20px;line-height:30px;color:#30343b;font-weight:350;">分隔符</div>
<div style="left:2374.3px;top:1116.4px;width:137px;height:42.4px;border:1px solid #d3d6db;border-radius:4px;"></div>
<div class="t" style="left:2387px;top:1124.0px;font-size:20px;line-height:30px;color:#30343b;font-weight:350;">逗号(,)</div>
<svg style="left:2484.4px;top:1132.5px;" width="18" height="12" viewBox="0 0 18 12"><path d="M0.600 0.800L9 11L17.400 0.800" fill="none" stroke="#2f333a" stroke-width="1.5"/></svg>
<div style="left:2149px;top:1174.5px;width:390px;height:1px;background:#dfe2e6;"></div>
<div class="t" style="left:2181.5px;top:1190.0px;font-size:20px;line-height:30px;color:#30343b;font-weight:350;">字号</div>
<div style="left:2182.4px;top:1225.3px;width:222.2px;height:42.3px;border:1px solid #d3d6db;border-radius:4px;"></div>
<div class="t" style="left:2196px;top:1231.1px;font-size:20.5px;line-height:31px;color:#30343b;font-weight:350;">14</div>
<svg style="left:2368.2px;top:1240.7px;" width="18" height="12" viewBox="0 0 18 12"><path d="M0.600 0.800L9 11L17.400 0.800" fill="none" stroke="#2f333a" stroke-width="1.5"/></svg>
<div style="left:2410.2px;top:1225.3px;width:111.5px;height:42.3px;border:1px solid #e0e2e6;border-radius:3px;"></div>
<div style="left:2414.2px;top:1229.3px;width:103.8px;height:34.5px;background:#333a4d;"></div>
<div style="left:2552.2px;top:647px;width:8px;height:291px;background:#a2b1c4;border-radius:4px;"></div>
<div style="left:2492px;top:1098px;width:53px;height:153.7px;background:#fff;border-radius:26.500px;box-shadow:0 2px 12px rgba(30,40,60,.13);"></div>
<svg style="left:2508px;top:1122px;" width="22" height="14" viewBox="0 0 22 14"><g fill="#1ab6b6"><circle cx="3.6" cy="3.3" r="1.600"/><circle cx="3.6" cy="10.5" r="1.600"/><circle cx="10.9" cy="3.3" r="1.600"/><circle cx="10.9" cy="10.5" r="1.600"/><circle cx="18.2" cy="3.3" r="1.600"/><circle cx="18.2" cy="10.5" r="1.600"/></g></svg>
<div class="t" style="left:2492px;top:1143.7px;font-size:20.5px;line-height:31px;color:#12b5b5;font-weight:350;width:53px;text-align:center;">AI</div>
<div class="t" style="left:2492px;top:1178.0px;font-size:18.67px;line-height:28px;color:#12b5b5;font-weight:350;width:53px;text-align:center;">助</div>
<div class="t" style="left:2492px;top:1210.0px;font-size:18.67px;line-height:28px;color:#12b5b5;font-weight:350;width:53px;text-align:center;">手</div>
</aside>
<header aria-label="toolbar">
<div style="left:0px;top:0px;width:2560px;height:69.5px;background:#fff;"></div>
<div style="left:0px;top:69px;width:2560px;height:2px;background:linear-gradient(#dddfe3,#e9eaee);"></div>
<div class="t" style="left:22.5px;top:19.0px;font-size:20px;line-height:30px;color:#959aa1;font-weight:700;">根目录</div>
<div class="t" style="left:95.5px;top:16.5px;font-size:23px;line-height:34px;color:#959aa1;font-weight:700;transform:skewX(-9deg);">/</div>
<div class="t" style="left:118.5px;top:19.0px;font-size:20px;line-height:30px;color:#959aa1;font-weight:700;">...</div>
<div class="t" style="left:149px;top:16.5px;font-size:23px;line-height:34px;color:#959aa1;font-weight:700;transform:skewX(-9deg);">/</div>
<div class="t" style="left:170.5px;top:19.0px;font-size:20px;line-height:30px;color:#1f7f78;font-weight:700;">各省销售金额</div>
<div class="t" style="left:303.5px;top:16.5px;font-size:23px;line-height:34px;color:#959aa1;font-weight:700;transform:skewX(-9deg);">/</div>
<div class="t" style="left:325.5px;top:19.0px;font-size:20px;line-height:30px;color:#1f2328;font-weight:700;letter-spacing:-0.200px;">不同类的年销售额</div>
<svg style="left:1856.4px;top:23px;" width="18" height="17" viewBox="0 0 18 17"><g fill="none" stroke="#2f333a" stroke-width="1.500"><path d="M3.200 4.800h8.500a5.300 5.300 0 0 1 0 10.600H5.500"/><path d="M6.400 1L2.600 4.800l3.800 3.800"/></g></svg>
<div class="t" style="left:1884px;top:18.0px;font-size:20px;line-height:30px;color:#30343b;font-weight:350;">撤销</div>
<svg style="left:1965.2px;top:23px;" width="18" height="17" viewBox="0 0 18 17"><g fill="none" stroke="#a9adb4" stroke-width="1.500"><path d="M14.800 4.800H6.300a5.300 5.300 0 0 0 0 10.600h6.200"/><path d="M11.600 1l3.800 3.800-3.800 3.800"/></g></svg>
<div class="t" style="left:1992px;top:18.0px;font-size:20px;line-height:30px;color:#a0a5ad;font-weight:350;">恢复</div>
<div style="left:2056px;top:13px;width:1px;height:33px;background:#e1e3e7;"></div>
<div class="t" style="left:2084px;top:18.0px;font-size:20px;line-height:30px;color:#30343b;font-weight:350;">取消编辑</div>
<div style="left:2196.4px;top:5.2px;width:131.6px;height:51.5px;border:1px solid #d3d6db;border-radius:4px;background:#fff;"></div>
<div class="t" style="left:2196.4px;top:18.0px;font-size:20px;line-height:30px;color:#30343b;font-weight:350;width:131.6px;text-align:center;">另存为</div>
<div style="left:2348.2px;top:5px;width:130px;height:51.7px;background:#1b837c;border-radius:4px 0 0 4px;"></div>
<div class="t" style="left:2349.7px;top:18.0px;font-size:20px;line-height:30px;color:#fff;font-weight:500;width:128.5px;text-align:center;">保存</div>
<div style="left:2474px;top:0px;width:62px;height:61.7px;background:#1a817a;"></div>
<div style="left:2478px;top:3.9px;width:54.5px;height:54.2px;background:#fff;"></div>
<div style="left:2477px;top:5.1px;width:53.9px;height:51.8px;background:#349e97;border-radius:0 3px 3px 0;"></div>
<svg style="left:2497px;top:26.5px;" width="15.5" height="10" viewBox="0 0 18 12"><path d="M0.600 0.800L9 11L17.400 0.800" fill="none" stroke="#fff" stroke-width="2.5"/></svg>
<div style="left:2340px;top:62px;width:191.2px;height:84px;background:#fff;border-radius:5px;box-shadow:0 4px 14px rgba(20,30,50,.16);"></div>
<div style="left:2347px;top:63px;width:164px;height:79px;border:3px solid #ee1218;"></div>
<div class="t" style="left:2366px;top:90.5px;font-size:20px;line-height:30px;color:#454a52;font-weight:350;">保存并退出</div>
</header>
</div>
</body>
</html>
